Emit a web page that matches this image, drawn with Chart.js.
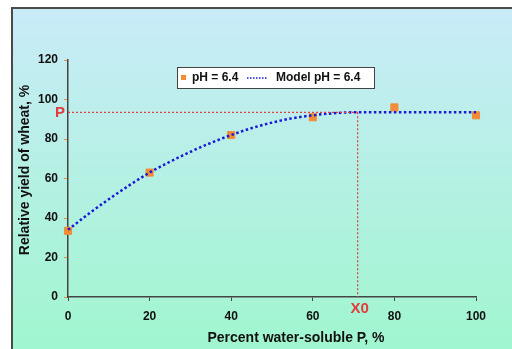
<!DOCTYPE html>
<html>
<head>
<meta charset="utf-8">
<script src="https://cdn.jsdelivr.net/npm/chart.js@4"></script>
<style>
  html, body { margin: 0; padding: 0; background: #fff; }
  #wrap { width: 512px; height: 349px; }
</style>
</head>
<body>
<div id="wrap"><canvas id="chart" width="512" height="349"></canvas></div>
<script>
// measured points
const percentP = [0, 20, 40, 60, 80, 100];
const yieldPH64 = [33.5, 63, 82, 91, 96, 92];

// model curve
const modelX = [0, 5, 10, 15, 20, 25, 30, 35, 40, 45, 50, 55, 60, 65, 70, 75, 80, 85, 90, 95, 100];
const modelY = [34, 42, 49.5, 56.5, 63, 68.5, 73.5, 78, 82, 85.5, 88.3, 90.5, 92, 93, 93.5, 93.5, 93.5, 93.5, 93.5, 93.5, 93.5];

// plateau marks
const plateauP = 93.5;
const breakX0 = 71;

const xTicks = [0, 20, 40, 60, 80, 100];
const yTicks = [0, 20, 40, 60, 80, 100, 120];

const FONT = '"Liberation Sans", Arial, sans-serif';
const ORANGE = '#f28c36';
const BLUE = '#1a1ad6';
const RED = '#e23c3c';

const toXY = (xs, ys) => xs.map((x, i) => ({ x: x, y: ys[i] }));

/* background, frame, labels and legend */
const decor = {
  id: 'decor',
  beforeDraw(chart) {
    const ctx = chart.ctx;
    const g = ctx.createLinearGradient(0, 8, 0, 349);
    g.addColorStop(0, '#c9ebf8');
    g.addColorStop(1, '#a0f6cf');
    ctx.save();
    ctx.fillStyle = g;
    ctx.fillRect(12, 8, 520, 360);
    ctx.strokeStyle = '#4a4a4a';
    ctx.lineWidth = 2;
    ctx.strokeRect(12, 8, 520, 360);
    ctx.restore();
  },
  afterDraw(chart) {
    const ctx = chart.ctx;
    const xs = chart.scales.x, ys = chart.scales.y;
    ctx.save();
    ctx.fillStyle = '#111';
    ctx.font = 'bold 14px ' + FONT;
    ctx.textAlign = 'center';
    ctx.textBaseline = 'middle';
    ctx.fillText('Percent water-soluble P, %', 296, 338);
    ctx.translate(25, 170);
    ctx.rotate(-Math.PI / 2);
    ctx.fillText('Relative yield of wheat, %', 0, 0);
    ctx.restore();

    // P and X0 labels
    ctx.save();
    ctx.fillStyle = RED;
    ctx.font = 'bold 15px ' + FONT;
    ctx.textBaseline = 'middle';
    ctx.textAlign = 'right';
    ctx.fillText('P', xs.left - 3, ys.getPixelForValue(plateauP) + 1);
    ctx.textAlign = 'center';
    ctx.fillText('X0', xs.getPixelForValue(breakX0) + 2, ys.bottom + 12);
    ctx.restore();

    // legend
    ctx.save();
    ctx.fillStyle = '#fff';
    ctx.fillRect(177, 67, 197, 21);
    ctx.strokeStyle = '#444';
    ctx.lineWidth = 1;
    ctx.strokeRect(177.5, 67.5, 197, 21);
    ctx.fillStyle = ORANGE;
    ctx.fillRect(181, 75, 5, 5);
    ctx.fillStyle = '#111';
    ctx.font = 'bold 12px ' + FONT;
    ctx.textBaseline = 'middle';
    ctx.textAlign = 'left';
    ctx.fillText('pH = 6.4', 192, 78);
    ctx.strokeStyle = BLUE;
    ctx.lineWidth = 1.5;
    ctx.setLineDash([1.5, 1.5]);
    ctx.beginPath();
    ctx.moveTo(247, 78);
    ctx.lineTo(268, 78);
    ctx.stroke();
    ctx.setLineDash([]);
    ctx.fillText('Model pH = 6.4', 276, 78);
    ctx.restore();
  }
};

new Chart(document.getElementById('chart'), {
  type: 'scatter',
  data: {
    datasets: [
      {
        label: 'P line',
        type: 'line',
        data: [{ x: 0, y: plateauP }, { x: breakX0, y: plateauP }],
        borderColor: RED,
        borderWidth: 1.2,
        borderDash: [2, 2],
        pointRadius: 0,
        clip: false
      },
      {
        label: 'X0 line',
        type: 'line',
        data: [{ x: breakX0, y: plateauP }, { x: breakX0, y: 0 }],
        borderColor: RED,
        borderWidth: 1.2,
        borderDash: [2, 2],
        pointRadius: 0,
        clip: false
      },
      {
        label: 'Model pH = 6.4',
        type: 'line',
        data: toXY(modelX, modelY),
        borderColor: BLUE,
        borderWidth: 2.5,
        borderDash: [2.5, 2.5],
        cubicInterpolationMode: 'monotone',
        pointRadius: 0,
        clip: false
      },
      {
        label: 'pH = 6.4',
        data: toXY(percentP, yieldPH64),
        backgroundColor: ORANGE,
        borderColor: ORANGE,
        pointStyle: 'rect',
        pointRadius: 5,
        clip: false
      }
    ]
  },
  options: {
    responsive: false,
    animation: false,
    layout: { padding: { left: 12, right: 36, top: 60, bottom: 0 } },
    plugins: { legend: { display: false }, tooltip: { enabled: false } },
    scales: {
      x: {
        type: 'linear',
        min: 0, max: 100,
        afterFit: s => { s.height = 52; },
        afterBuildTicks: s => { s.ticks = xTicks.map(v => ({ value: v })); },
        grid: { drawOnChartArea: false, tickLength: 4, tickColor: '#444' },
        border: { color: '#444', width: 1.5 },
        ticks: { color: '#111', padding: 8, font: { family: FONT, size: 12, weight: 'bold' } }
      },
      y: {
        min: 0, max: 120,
        afterFit: s => { s.width = 56; },
        afterBuildTicks: s => { s.ticks = yTicks.map(v => ({ value: v })); },
        grid: { drawOnChartArea: false, tickLength: 4, tickColor: ORANGE },
        border: { color: '#444', width: 1.5 },
        ticks: { color: '#111', padding: 6, font: { family: FONT, size: 12, weight: 'bold' } }
      }
    }
  },
  plugins: [decor]
});
</script>
</body>
</html>
